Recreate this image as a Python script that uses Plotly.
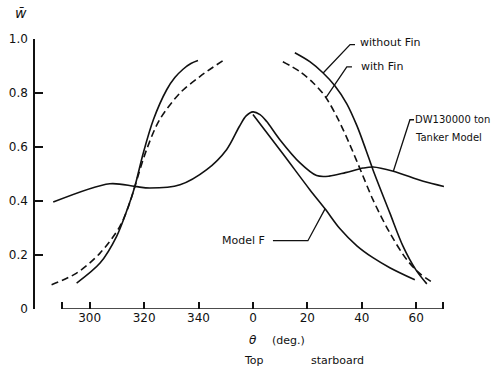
import plotly.graph_objects as go

# theta in degrees (negative = port side, shown as 360+theta), w = wake fraction
theta_tanker = [-73.4, -52.6, -43.4, -37.9, -26.8, -17.0, -9.7, -5.0, -2.5, 0.0, 2.6, 5.0, 9.9, 17.3, 23.4, 28.0, 34.0, 40.5, 44.2, 51.6, 62.6, 70.2]
w_tanker = [0.396, 0.464, 0.454, 0.448, 0.460, 0.516, 0.590, 0.676, 0.715, 0.730, 0.720, 0.695, 0.627, 0.541, 0.494, 0.492, 0.505, 0.522, 0.526, 0.510, 0.473, 0.454]

theta_modelF = [0.0, 11.0, 20.9, 26.5, 32.0, 38.2, 44.1, 50.3, 59.5]
w_modelF = [0.720, 0.575, 0.442, 0.371, 0.297, 0.234, 0.190, 0.153, 0.108]

theta_nofin_port = [-64.8, -56.2, -50.1, -45.8, -43.4, -40.3, -36.6, -31.7, -28.7, -25.7, -22.8, -20.2]
w_nofin_port = [0.096, 0.170, 0.269, 0.380, 0.454, 0.578, 0.701, 0.812, 0.857, 0.888, 0.909, 0.920]

theta_fin_port = [-74.0, -64.8, -56.2, -48.9, -45.3, -43.4, -39.1, -34.3, -26.8, -19.5, -10.9]
w_fin_port = [0.090, 0.133, 0.207, 0.306, 0.393, 0.454, 0.590, 0.701, 0.800, 0.861, 0.921]

theta_nofin_stbd = [15.4, 20.9, 25.7, 30.1, 34.5, 38.2, 41.5, 44.1, 50.3, 55.1, 59.9, 63.9]
w_nofin_stbd = [0.949, 0.916, 0.875, 0.827, 0.760, 0.679, 0.590, 0.516, 0.356, 0.234, 0.145, 0.093]

theta_fin_stbd = [11.0, 17.3, 22.1, 26.5, 31.2, 35.6, 40.1, 44.1, 50.3, 56.6, 61.4, 66.2]
w_fin_stbd = [0.916, 0.879, 0.838, 0.788, 0.705, 0.609, 0.501, 0.405, 0.282, 0.182, 0.131, 0.097]

x_tickvals = [-70, -60, -40, -20, 0, 20, 40, 60, 70]
x_ticktext = ["", "300", "320", "340", "0", "20", "40", "60", ""]
y_tickvals = [0, 0.2, 0.4, 0.6, 0.8, 1.0]
y_ticktext = ["0", "0.2", "0.4", "0.6", "0.8", "1.0"]

INK = "#111111"
FONT = "DejaVu Sans"

fig = go.Figure()

def add(x, y, dash="solid"):
    fig.add_trace(go.Scatter(
        x=x, y=y, mode="lines",
        line=dict(color=INK, width=1.6, dash=dash, shape="spline", smoothing=0.9),
        showlegend=False, hoverinfo="skip"))

add(theta_tanker, w_tanker)
add(theta_modelF, w_modelF)
add(theta_nofin_port, w_nofin_port)
add(theta_nofin_stbd, w_nofin_stbd)
add(theta_fin_port, w_fin_port, dash="7px,4px")
add(theta_fin_stbd, w_fin_stbd, dash="7px,4px")

# x axis baseline (separate from y axis)
fig.add_shape(type="line", x0=-70, x1=70, y0=0, y1=0, xref="x", yref="y",
              line=dict(color=INK, width=1.5))

# leader lines
def leader(pts):
    path = "M " + " L ".join(f"{a},{b}" for a, b in pts)
    fig.add_shape(type="path", path=path, xref="x", yref="y",
                  line=dict(color=INK, width=1.3))

leader([(37.5, 0.979), (35.7, 0.979), (25.8, 0.874)])
leader([(36.4, 0.897), (34.5, 0.897), (26.9, 0.784)])
leader([(59.2, 0.701), (57.7, 0.701), (51.6, 0.51)])
leader([(7.35, 0.253), (20.2, 0.253), (26.5, 0.371)])

def label(x, y, text, anchor="left", size=11, xref="x", yref="y"):
    fig.add_annotation(x=x, y=y, xref=xref, yref=yref, text=text, showarrow=False,
                       xanchor=anchor, yanchor="middle",
                       font=dict(family=FONT, size=size, color=INK))

label(38.6, 0.986, "without Fin")
label(39.0, 0.897, "with Fin")
label(59.0, 0.701, "DW130000 ton", size=10)
label(59.0, 0.637, "Tanker Model", size=10)
label(5.1, 0.253, "Model F", anchor="right")
label(0.0, -0.115, "<i>θ</i>", anchor="center", size=12, yref="paper")
label(6.2, -0.115, "(deg.)", anchor="left", yref="paper")
label(0.4, -0.19, "Top", anchor="center", yref="paper")
label(30.9, -0.19, "starboard", anchor="center", yref="paper")
label(-0.033, 1.097, "<i>w̄</i>", anchor="center", size=14, xref="paper", yref="paper")

fig.update_layout(
    width=496, height=368,
    margin=dict(l=35, r=36, t=39, b=59, autoexpand=False),
    paper_bgcolor="white", plot_bgcolor="white",
    font=dict(family=FONT, size=12, color=INK),
    xaxis=dict(range=[-80.1, 76.1], showline=False, showgrid=False, zeroline=False,
               ticks="inside", ticklen=7, tickwidth=1.5, tickcolor=INK,
               tickvals=x_tickvals, ticktext=x_ticktext, automargin=False,
               tickfont=dict(family=FONT, size=12, color=INK)),
    yaxis=dict(range=[0, 1.0], showline=True, linecolor=INK, linewidth=1.5,
               showgrid=False, zeroline=False, automargin=False,
               ticks="inside", ticklen=8, tickwidth=1.5, tickcolor=INK,
               tickvals=y_tickvals, ticktext=y_ticktext, ticklabelstandoff=3,
               tickfont=dict(family=FONT, size=12, color=INK)),
)

fig.write_html("out.html")
